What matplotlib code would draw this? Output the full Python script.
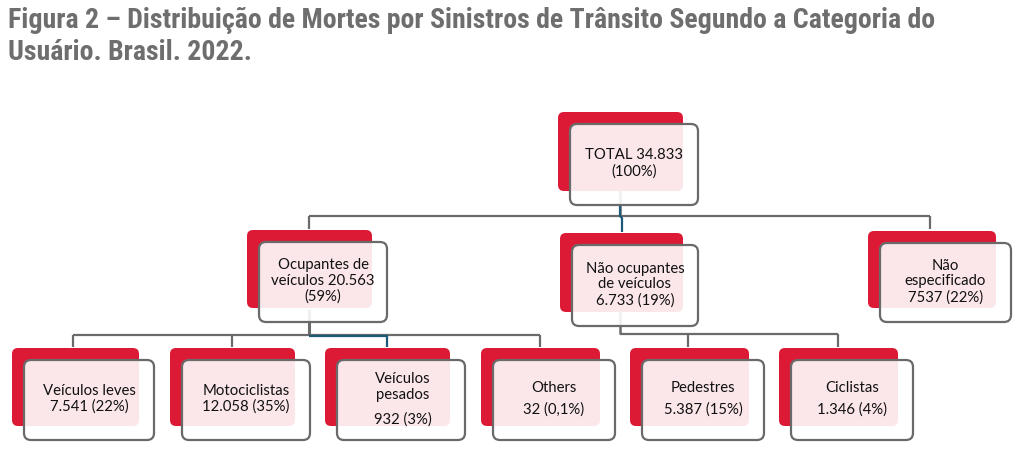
import matplotlib.pyplot as plt
from matplotlib.patches import FancyBboxPatch

# data
title_lines = ["Figura 2 – Distribuição de Mortes por Sinistros de Trânsito Segundo a Categoria do",
               "Usuário. Brasil. 2022."]
node_names = ["TOTAL", "Ocupantes de\nveículos", "Não ocupantes\nde veículos", "Não\nespecificado",
              "Veículos leves", "Motociclistas", "Veículos\npesados", "Others", "Pedestres", "Ciclistas"]
node_values = ["34.833", "20.563", "6.733", "7537",
               "7.541", "12.058", "932", "32", "5.387", "1.346"]
node_shares = ["(100%)", "(59%)", "(19%)", "(22%)",
               "(22%)", "(35%)", "(3%)", "(0,1%)", "(15%)", "(4%)"]

# layout (pixels): front box left, top, width, height
box_x = [570, 259, 572, 880, 24, 182, 337, 493, 642, 791]
box_y = [124, 242, 245, 243, 360, 360, 360, 360, 360, 360]
box_w = [128, 128, 126, 131, 130, 128, 128, 122, 122, 122]
box_h = [81, 80, 81, 79, 80, 80, 80, 80, 80, 80]
shift = 12
red = "#dc1a36"
edge = "#6a6a6a"
blue = "#1d5a78"
body_font = "Lato"

fig = plt.figure(figsize=(10.24, 4.59), dpi=100)
ax = fig.add_axes([0, 0, 1, 1])
ax.set_xlim(0, 1024)
ax.set_ylim(459, 0)
ax.axis("off")

# title, sized to the reference width
titles = []
for k, line in enumerate(title_lines):
    t = ax.text(8, 21 + k * 32, line, fontsize=17, fontweight="bold", color="#6e6e6e",
                family=["Roboto Condensed", "Liberation Sans Narrow", "Roboto", "DejaVu Sans"],
                fontstretch="condensed", va="center", ha="left")
    titles.append(t)
fig.canvas.draw()
w0 = titles[0].get_window_extent().width
for t in titles:
    t.set_fontsize(17 * 930 / w0)


def seg(xs, ys, c=edge, lw=1.6):
    ax.plot(xs, ys, color=c, lw=lw, zorder=2, solid_capstyle="butt")


# level 1 -> 2
seg([620, 620], [190, 216], lw=1.8)
seg([309, 930], [216, 216])
seg([309, 309], [216, 229])
seg([930, 930], [216, 229])
seg([620, 620, 622, 622], [205, 216, 218, 232], c=blue)
# Ocupantes -> children
seg([309, 309], [309, 335], lw=2.2)
seg([73, 540], [335, 335])
for cx in [73, 232, 540]:
    seg([cx, cx], [335, 347])
seg([309, 387, 387], [336, 336, 347], c=blue)
# Nao ocupantes -> children
seg([620, 620], [311, 334], lw=1.8)
seg([620, 838], [334, 334])
for cx in [688, 838]:
    seg([cx, cx], [334, 347])


def label(x, y, s, ls=1.15):
    ax.text(x, y, s, fontsize=10.7, family=body_font, ha="center", va="center",
            linespacing=ls, zorder=4, color="#111111")


for i in range(len(node_names)):
    x, y, w, h = box_x[i], box_y[i], box_w[i], box_h[i]
    back = FancyBboxPatch((x - shift, y - shift), w - 3, h - 2,
                          boxstyle="round,pad=0,rounding_size=6",
                          fc=red, ec="none", zorder=1)
    ax.add_patch(back)
    front = FancyBboxPatch((x, y), w, h, boxstyle="round,pad=0,rounding_size=7",
                           fc=(1, 1, 1, 0.9), ec=edge, lw=1.6, zorder=3)
    ax.add_patch(front)
    cx = x + w / 2
    cy = y + h / 2
    if i == 0:
        label(cx, cy - 1, node_names[i] + " " + node_values[i] + "\n" + node_shares[i])
    elif i == 1:
        label(cx, cy - 1, "Ocupantes de\nveículos " + node_values[i] + "\n" + node_shares[i])
    elif i in (2, 3, 4, 5):
        label(cx, cy - 1, node_names[i] + "\n" + node_values[i] + " " + node_shares[i])
    elif i == 6:
        label(cx + 2, cy - 13, node_names[i])
        label(cx + 2, cy + 20, node_values[i] + " " + node_shares[i])
    else:
        label(cx, cy - 12, node_names[i])
        label(cx, cy + 10, node_values[i] + " " + node_shares[i])

fig.savefig("out.png", dpi=100)
